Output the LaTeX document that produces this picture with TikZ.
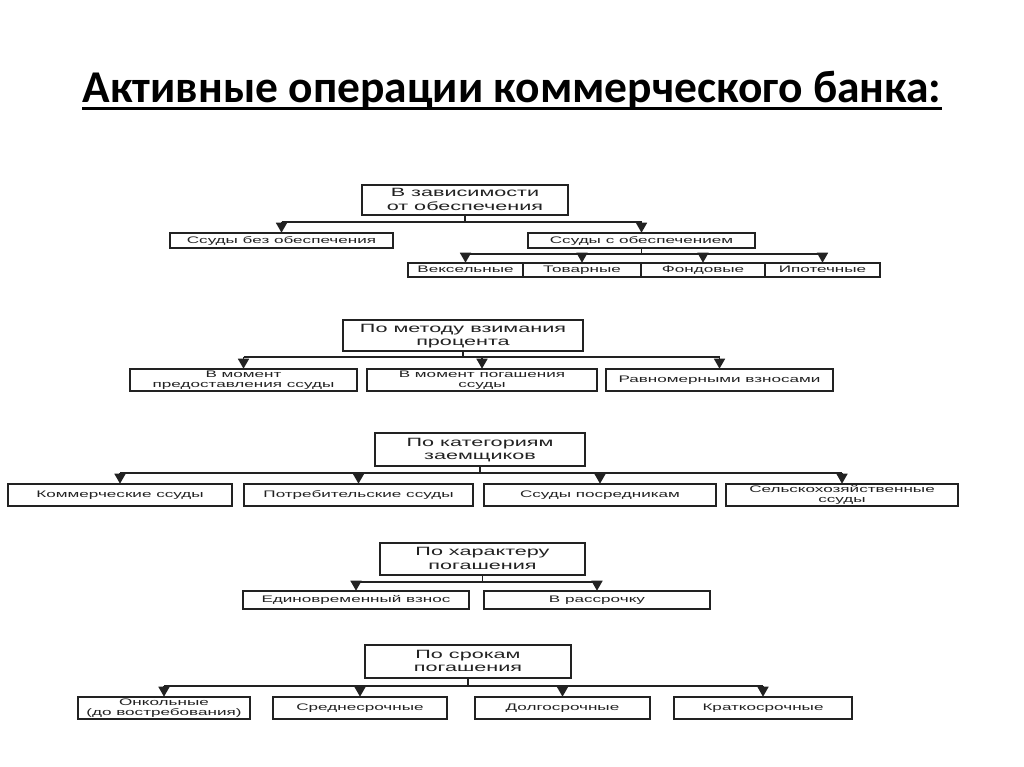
\documentclass[tikz,border=0pt]{standalone}
\usepackage{fontspec}
\setmainfont{Liberation Sans}
\newfontfamily\titlefont{Carlito}
\usetikzlibrary{arrows.meta}
\definecolor{ink}{HTML}{222222}
\newcommand{\sx}[1]{\scalebox{1.8}[1]{\rule[-0.22em]{0pt}{1.02em}#1}}
\tikzset{
  box/.style={draw=ink, line width=1.6pt, rectangle, inner sep=0pt, align=center, text=ink},
  bigbox/.style={box, font=\fontsize{12}{13.5}\selectfont},
  smallbox/.style={box, font=\fontsize{9.5}{10.2}\selectfont},
  tinybox/.style={box, font=\fontsize{9.5}{10}\selectfont},
  wire/.style={draw=ink, line width=1.6pt},
  arr/.style={wire, -{Triangle[width=11pt,length=10pt]}, shorten >=-0.5pt}
}
\begin{document}
\begin{tikzpicture}[x=1pt,y=-1pt]
\useasboundingbox[fill=white] (0,0) rectangle (1024,767);

% Title
\node[anchor=base, inner sep=0pt, font=\titlefont\bfseries\fontsize{45.5}{50}\selectfont] (title) at (512,103) {Активные операции коммерческого банка:};
\draw[line width=3pt] ([yshift=-6pt]title.base west) -- ([yshift=-6pt]title.base east);

% ---------- Section 1
\node[bigbox, minimum width=206pt, minimum height=30pt] (t1) at (465,200) {\sx{В зависимости}\\\sx{от обеспечения}};
\node[smallbox, minimum width=223pt, minimum height=15pt] (a1) at (281.5,240.5) {\sx{Ссуды без обеспечения}};
\node[smallbox, minimum width=227pt, minimum height=15pt] (b1) at (641.5,240.5) {\sx{Ссуды с обеспечением}};
\node[tinybox, minimum width=115pt, minimum height=14pt] (g1) at (465.5,270) {\sx{Вексельные}};
\node[tinybox, minimum width=118pt, minimum height=14pt] (g2) at (582,270) {\sx{Товарные}};
\node[tinybox, minimum width=124pt, minimum height=14pt] (g3) at (703,270) {\sx{Фондовые}};
\node[tinybox, minimum width=115pt, minimum height=14pt] (g4) at (822.5,270) {\sx{Ипотечные}};
\coordinate (bus1) at (0,222);
\coordinate (bus1b) at (0,254);
\draw[wire] (t1.south) -- (t1.south |- bus1);
\draw[wire] (a1.north |- bus1) -- (b1.north |- bus1);
\draw[arr] (a1.north |- bus1) -- (a1.north);
\draw[arr] (b1.north |- bus1) -- (b1.north);
\draw[wire] (b1.south) -- (b1.south |- bus1b);
\draw[wire] (g1.north |- bus1b) -- (g4.north |- bus1b);
\foreach \n in {g1,g2,g3,g4} \draw[arr] (\n.north |- bus1b) -- (\n.north);

% ---------- Section 2
\node[bigbox, minimum width=240pt, minimum height=31pt] (t2) at (463,335.5) {\sx{По методу взимания}\\\sx{процента}};
\node[smallbox, minimum width=227pt, minimum height=22pt] (c21) at (243.5,380) {\sx{В момент}\\\sx{предоставления ссуды}};
\node[smallbox, minimum width=230pt, minimum height=22pt] (c22) at (482,380) {\sx{В момент погашения}\\\sx{ссуды}};
\node[smallbox, minimum width=227pt, minimum height=22pt] (c23) at (719.5,380) {\sx{Равномерными взносами}};
\coordinate (bus2) at (0,357);
\draw[wire] (t2.south) -- (t2.south |- bus2);
\draw[wire] (c21.north |- bus2) -- (c23.north |- bus2);
\foreach \n in {c21,c22,c23} \draw[arr] (\n.north |- bus2) -- (\n.north);

% ---------- Section 3
\node[bigbox, minimum width=210pt, minimum height=33pt] (t3) at (480,449.5) {\sx{По категориям}\\\sx{заемщиков}};
\node[smallbox, minimum width=224pt, minimum height=22pt] (c31) at (120,495) {\sx{Коммерческие ссуды}};
\node[smallbox, minimum width=229pt, minimum height=22pt] (c32) at (358.5,495) {\sx{Потребительские ссуды}};
\node[smallbox, minimum width=232pt, minimum height=22pt] (c33) at (600,495) {\sx{Ссуды посредникам}};
\node[smallbox, minimum width=232pt, minimum height=22pt] (c34) at (842,495) {\sx{Сельскохозяйственные}\\\sx{ссуды}};
\coordinate (bus3) at (0,473);
\draw[wire] (t3.south) -- (t3.south |- bus3);
\draw[wire] (c31.north |- bus3) -- (c34.north |- bus3);
\foreach \n in {c31,c32,c33,c34} \draw[arr] (\n.north |- bus3) -- (\n.north);

% ---------- Section 4
\node[bigbox, minimum width=205pt, minimum height=32pt] (t4) at (482.5,559) {\sx{По характеру}\\\sx{погашения}};
\node[smallbox, minimum width=226pt, minimum height=18pt] (c41) at (356,600) {\sx{Единовременный взнос}};
\node[smallbox, minimum width=226pt, minimum height=18pt] (c42) at (597,600) {\sx{В рассрочку}};
\coordinate (bus4) at (0,582);
\draw[wire] (t4.south) -- (t4.south |- bus4);
\draw[wire] (c41.north |- bus4) -- (c42.north |- bus4);
\foreach \n in {c41,c42} \draw[arr] (\n.north |- bus4) -- (\n.north);

% ---------- Section 5
\node[bigbox, minimum width=206pt, minimum height=33pt] (t5) at (468,661.5) {\sx{По срокам}\\\sx{погашения}};
\node[smallbox, minimum width=172pt, minimum height=22pt] (c51) at (164,708) {\sx{Онкольные}\\\sx{(до востребования)}};
\node[smallbox, minimum width=174pt, minimum height=22pt] (c52) at (360,708) {\sx{Среднесрочные}};
\node[smallbox, minimum width=175pt, minimum height=22pt] (c53) at (562.5,708) {\sx{Долгосрочные}};
\node[smallbox, minimum width=178pt, minimum height=22pt] (c54) at (763,708) {\sx{Краткосрочные}};
\coordinate (bus5) at (0,686);
\draw[wire] (t5.south) -- (t5.south |- bus5);
\draw[wire] (c51.north |- bus5) -- (c54.north |- bus5);
\foreach \n in {c51,c52,c53,c54} \draw[arr] (\n.north |- bus5) -- (\n.north);
\end{tikzpicture}
\end{document}
